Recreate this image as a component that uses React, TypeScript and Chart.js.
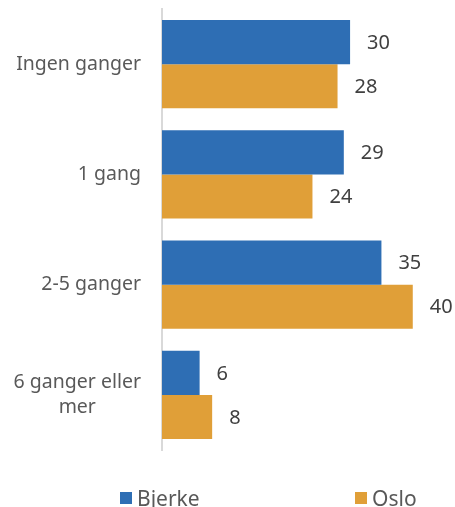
import React, { useEffect, useRef } from "react";
import { Chart, registerables } from "chart.js";

Chart.register(...registerables);

const categories: string[][] = [["Ingen ganger"], ["1 gang"], ["2-5 ganger"], ["6 ganger eller", "mer"]];
const bjerke = [30, 29, 35, 6];
const oslo = [28, 24, 40, 8];
const seriesNames = ["Bjerke", "Oslo"];
const colors = ["#2E6EB4", "#E09F38"];

const FONT = "'Noto Sans', sans-serif";

export default function App() {
  const ref = useRef<HTMLCanvasElement | null>(null);
  useEffect(() => {
    if (!ref.current) return;
    const labelPlugin = {
      id: "customLabels",
      afterDraw(chart: any) {
        const ctx = chart.ctx;
        ctx.save();
        const y = chart.scales.y;
        ctx.font = `19.5px ${FONT}`;
        ctx.fillStyle = "#595959";
        ctx.textAlign = "center";
        ctx.textBaseline = "middle";
        const right = 141;
        const lh = 25;
        categories.forEach((lines, i) => {
          const cy = y.getPixelForTick(i);
          const maxW = Math.max(...lines.map((l) => ctx.measureText(l).width));
          const cx = right - maxW / 2;
          lines.forEach((l, j) => {
            ctx.fillText(l, cx, cy + (j - (lines.length - 1) / 2) * lh);
          });
        });
        ctx.font = `20px ${FONT}`;
        ctx.fillStyle = "#404040";
        ctx.textAlign = "left";
        chart.data.datasets.forEach((ds: any, di: number) => {
          const meta = chart.getDatasetMeta(di);
          meta.data.forEach((bar: any, i: number) => {
            ctx.fillText(String(ds.data[i]), bar.x + 17, bar.y + 1);
          });
        });
        ctx.restore();
      },
    };
    const chart = new Chart(ref.current, {
      type: "bar",
      data: {
        labels: categories.map((c) => c.join(" ")),
        datasets: [
          { label: seriesNames[0], data: bjerke, backgroundColor: colors[0], categoryPercentage: 0.8, barPercentage: 1.0 },
          { label: seriesNames[1], data: oslo, backgroundColor: colors[1], categoryPercentage: 0.8, barPercentage: 1.0 },
        ],
      },
      options: {
        indexAxis: "y",
        animation: false,
        responsive: false,
        maintainAspectRatio: false,
        layout: { padding: { top: 9, bottom: 57, right: 9, left: 0 } },
        plugins: { legend: { display: false }, tooltip: { enabled: false } },
        scales: {
          x: { display: false, min: 0, max: 45.3 },
          y: {
            ticks: { display: false },
            grid: { display: false },
            border: { display: true, color: "#D9D9D9", width: 2 },
            afterFit: (s: any) => {
              s.width = 162;
            },
          },
        },
      },
      plugins: [labelPlugin],
    });
    return () => chart.destroy();
  }, []);

  const legendItem = (name: string, color: string, left: number) => (
    <div
      style={{
        position: "absolute",
        left,
        top: 484,
        height: 28,
        display: "flex",
        alignItems: "center",
        font: `21px ${FONT}`,
        color: "#595959",
        whiteSpace: "nowrap",
      }}
    >
      <span style={{ width: 12, height: 12, background: color, display: "inline-block", marginRight: 5 }} />
      {name}
    </div>
  );

  return (
    <div style={{ position: "fixed", left: 0, top: 0, width: 455, height: 507, background: "#fff", overflow: "hidden" }}>
      <canvas ref={ref} width={455} height={507} style={{ position: "absolute", left: 0, top: 0 }} />
      {legendItem(seriesNames[0], colors[0], 120)}
      {legendItem(seriesNames[1], colors[1], 355)}
    </div>
  );
}
